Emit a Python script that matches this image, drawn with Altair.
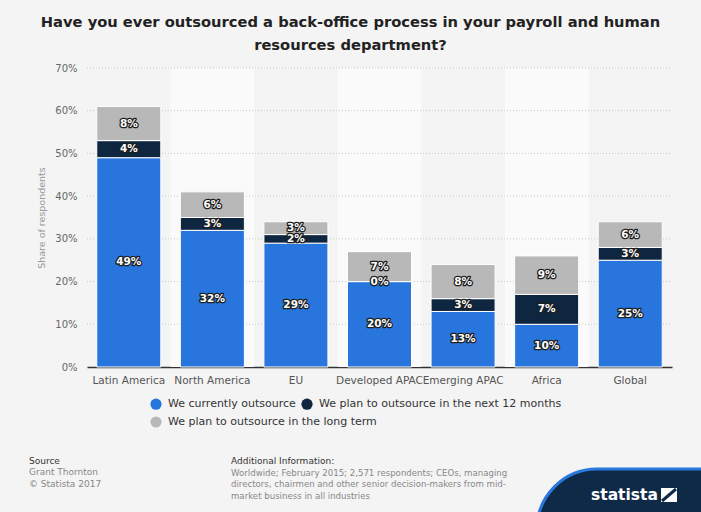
import altair as alt
import pandas as pd

# ---------------- data ----------------
regions = ["Latin America", "North America", "EU", "Developed APAC",
           "Emerging APAC", "Africa", "Global"]
series = ["We currently outsource",
          "We plan to outsource in the next 12 months",
          "We plan to outsource in the long term"]
current = [49, 32, 29, 20, 13, 10, 25]
next12 = [4, 3, 2, 0, 3, 7, 3]
longterm = [8, 6, 3, 7, 8, 9, 6]
colors = ["#2876dd", "#0f2640", "#b8b8b8"]
y_ticks = [0, 10, 20, 30, 40, 50, 60, 70]

title_lines = ["Have you ever outsourced a back-office process in your payroll and human",
               "resources department?"]
source_head = "Source"
source_lines = ["Grant Thornton", "© Statista 2017"]
info_head = "Additional Information:"
info_lines = ["Worldwide; February 2015; 2,571 respondents; CEOs, managing",
              "directors, chairmen and other senior decision-makers from mid-",
              "market business in all industries"]

rows = []
for i, r in enumerate(regions):
    for j, (s, vals) in enumerate(zip(series, [current, next12, longterm])):
        rows.append({"region": r, "series": s, "value": vals[i], "order": j})
df = pd.DataFrame(rows)
bands_df = pd.DataFrame({"region": regions[1::2]})
grid_df = pd.DataFrame({"t": y_ticks[1:]})
legend_df = pd.DataFrame({"series": series})

# ---------------- layout ----------------
W, H = 585, 299
PI = 0.234
FONT = "DejaVu Sans"

xscale = alt.Scale(domain=regions, paddingInner=PI, paddingOuter=PI / 2)
xaxis = alt.Axis(labelAngle=0, labelFontSize=10.5, labelColor="#555555", labelFont=FONT,
                 ticks=False, domainColor="#333333", domainWidth=1.5, labelPadding=8,
                 labelOverlap=False, labelLimit=200, title=None)
xenc = alt.X("region:N", sort=regions, scale=xscale, axis=xaxis, title=None)
yscale = alt.Scale(domain=[0, 70], nice=False)
yaxis = alt.Axis(values=y_ticks, labelExpr="datum.value + '%'", grid=False, domain=False,
                 ticks=False, labelPadding=10, labelFontSize=10, labelColor="#666666",
                 labelFont=FONT, titleFont=FONT, titleFontSize=9.5, titleColor="#999999",
                 titleFontWeight="normal", titlePadding=8)
YTITLE = "Share of respondents"

bands = alt.Chart(bands_df).mark_bar(
    color="#fafafa", width=alt.RelativeBandSize(band=1 / (1 - PI))
).encode(x=xenc, y=alt.value(0), y2=alt.value(H))

grid = alt.Chart(grid_df).mark_rule(
    color="#c8c8c8", strokeDash=[1, 2], strokeWidth=1
).encode(y=alt.Y("t:Q", scale=yscale, axis=yaxis, title=YTITLE),
         x=alt.value(0), x2=alt.value(W))

base = alt.Chart(df).transform_stack(
    stack="value", groupby=["region"], as_=["y0", "y1"], sort=[alt.SortField("order")]
).transform_calculate(
    mid="(datum.y0 + datum.y1) / 2", label="datum.value + '%'"
)

bars = base.mark_bar(stroke="white", strokeWidth=1).encode(
    x=xenc,
    y=alt.Y("y1:Q", scale=yscale, axis=yaxis, title=YTITLE),
    y2="y0:Q",
    color=alt.Color("series:N", scale=alt.Scale(domain=series, range=colors), legend=None),
    order=alt.Order("order:Q"),
)

txt_kw = dict(font=FONT, fontSize=10.5, fontWeight="bold", baseline="middle", align="center")
outline = base.mark_text(stroke="#1e1e1e", strokeWidth=2.6, fill="#1e1e1e",
                         strokeJoin="round", **txt_kw).encode(
    x=xenc, y=alt.Y("mid:Q", scale=yscale, axis=yaxis, title=YTITLE), text="label:N")
white = base.mark_text(fill="white", **txt_kw).encode(
    x=xenc, y=alt.Y("mid:Q", scale=yscale, axis=yaxis, title=YTITLE), text="label:N")


# ---------------- legend (two rows, flowing entries) ----------------
def legend_row(names, cols, ly):
    return alt.Chart(legend_df).transform_filter(
        alt.FieldOneOfPredicate(field="series", oneOf=names)
    ).transform_filter("false").mark_point(filled=True, shape="circle").encode(
        color=alt.Color("series:N", scale=alt.Scale(domain=names, range=cols),
                        legend=alt.Legend(title=None, orient="none", legendX=63, legendY=ly,
                                          direction="horizontal", symbolType="circle",
                                          symbolSize=125, symbolStrokeWidth=0,
                                          symbolOpacity=1, labelFontSize=11,
                                          labelColor="#333333", labelFont=FONT,
                                          columnPadding=5, labelOffset=6, padding=0,
                                          labelLimit=400))
    )


leg1 = legend_row(series[:2], colors[:2], 330)
leg2 = legend_row(series[2:], colors[2:], 348)

# ---------------- footer ----------------
foot = alt.Chart(alt.Data(values=[{}]))
src_h = foot.mark_text(align="left", baseline="middle", font=FONT, fontSize=9,
                       color="#333333").encode(
    x=alt.value(-58), y=alt.value(393), text=alt.value(source_head))
src_b = foot.mark_text(align="left", baseline="middle", font=FONT, fontSize=9,
                       color="#888888", lineHeight=12).encode(
    x=alt.value(-58), y=alt.value(404), text=alt.value(source_lines))
inf_h = foot.mark_text(align="left", baseline="middle", font=FONT, fontSize=9,
                       color="#333333").encode(
    x=alt.value(144), y=alt.value(393), text=alt.value(info_head))
inf_b = foot.mark_text(align="left", baseline="middle", font=FONT, fontSize=8.6,
                       color="#888888", lineHeight=11.5).encode(
    x=alt.value(144), y=alt.value(404.5), text=alt.value(info_lines))

logo_bg = foot.mark_rect(fill="#0f2a47", stroke="#2a77dd", strokeWidth=3,
                         cornerRadiusTopLeft=60).encode(
    x=alt.value(450), x2=alt.value(660), y=alt.value(401), y2=alt.value(530))
logo_txt = foot.mark_text(align="left", baseline="alphabetic", font=FONT, fontSize=15.5,
                          fontWeight="bold", color="white").encode(
    x=alt.value(504), y=alt.value(432), text=alt.value("statista"))
logo_sq = foot.mark_rect(fill="white").encode(
    x=alt.value(574), x2=alt.value(590), y=alt.value(420), y2=alt.value(434))
logo_ln = foot.mark_rule(color="#0f2a47", strokeWidth=3).encode(
    x=alt.value(575), y=alt.value(433), x2=alt.value(589), y2=alt.value(421))

chart = alt.layer(
    bands, grid, bars, outline, white, leg1, leg2,
    src_h, src_b, inf_h, inf_b, logo_bg, logo_txt, logo_sq, logo_ln
).resolve_scale(color="independent").resolve_legend(color="independent").properties(
    width=W, height=H,
    padding={"left": 87, "top": 68, "right": 29, "bottom": 145},
    autosize=alt.AutoSizeParams(type="none"),
    title=alt.TitleParams(text=title_lines, font=FONT, fontSize=14.7, fontWeight="bold",
                          color="#222222", anchor="middle", dx=-29, offset=10,
                          lineHeight=23),
).configure(
    background="#f4f4f4"
).configure_view(stroke=None)

chart.save("out.html", embed_options={"renderer": "svg", "actions": False})
